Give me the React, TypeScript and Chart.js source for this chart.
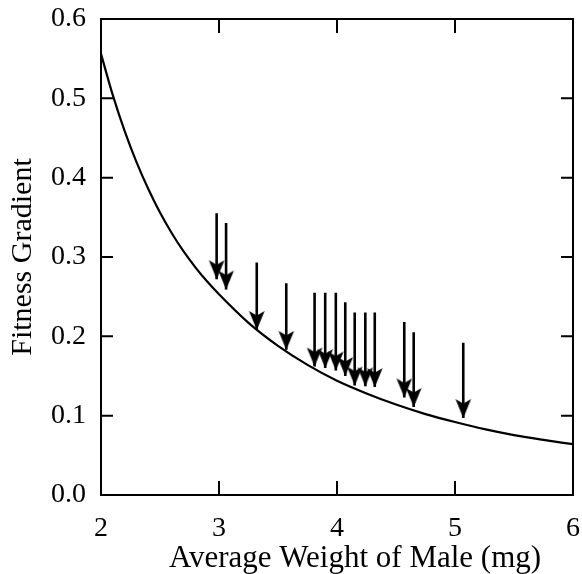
import React, { useEffect, useRef } from "react";
import { Chart, registerables } from "chart.js";

Chart.register(...registerables);

// Fitted curve
const curveX = [2.0, 2.1, 2.2, 2.3, 2.4, 2.5, 2.6, 2.7, 2.8, 2.9, 3.0, 3.25, 3.5, 3.75, 4.0, 4.25, 4.5, 4.75, 5.0, 5.25, 5.5, 5.75, 6.0];
const curveY = [0.556, 0.504, 0.459, 0.42, 0.386, 0.356, 0.33, 0.307, 0.287, 0.269, 0.253, 0.217, 0.188, 0.164, 0.144, 0.128, 0.114, 0.102, 0.092, 0.083, 0.0755, 0.0695, 0.064];

// Arrows: x position, top of shaft, tip of head
const arrowX = [2.98, 3.06, 3.32, 3.57, 3.81, 3.9, 3.99, 4.07, 4.15, 4.24, 4.32, 4.57, 4.65, 5.07];
const arrowTop = [0.355, 0.343, 0.293, 0.267, 0.255, 0.255, 0.255, 0.243, 0.23, 0.23, 0.23, 0.218, 0.205, 0.192];
const arrowTip = [0.272, 0.259, 0.208, 0.183, 0.162, 0.16, 0.157, 0.15, 0.138, 0.137, 0.136, 0.123, 0.111, 0.097];

const xTicks = [2, 3, 4, 5, 6];
const yTicks = [0.0, 0.1, 0.2, 0.3, 0.4, 0.5, 0.6];

const xTitle = "Average Weight of Male (mg)";
const yTitle = "Fitness Gradient";

const FONT = "'Liberation Serif', 'Times New Roman', serif";

function makeHead(): HTMLCanvasElement {
  const c = document.createElement("canvas");
  c.width = 18;
  c.height = 40;
  const g = c.getContext("2d")!;
  g.fillStyle = "#000";
  g.beginPath();
  g.moveTo(9, 20);
  g.lineTo(16.8, 1);
  g.lineTo(9, 5.5);
  g.lineTo(1.2, 1);
  g.closePath();
  g.fill();
  return c;
}

const framePlugin = {
  id: "frameTicks",
  afterDraw(chart: any) {
    const { ctx, chartArea: a, scales } = chart;
    ctx.save();
    ctx.strokeStyle = "#000";
    ctx.lineWidth = 2;
    ctx.strokeRect(a.left, a.top, a.right - a.left, a.bottom - a.top);
    ctx.beginPath();
    xTicks.slice(1, -1).forEach((v) => {
      const px = scales.x.getPixelForValue(v);
      ctx.moveTo(px, a.bottom);
      ctx.lineTo(px, a.bottom - 14);
      ctx.moveTo(px, a.top);
      ctx.lineTo(px, a.top + 14);
    });
    yTicks.slice(1, -1).forEach((v) => {
      const py = scales.y.getPixelForValue(v);
      ctx.moveTo(a.left, py);
      ctx.lineTo(a.left + 12, py);
      ctx.moveTo(a.right, py);
      ctx.lineTo(a.right - 12, py);
    });
    ctx.stroke();
    // x-axis title, set slightly right of centre as in the source figure
    ctx.fillStyle = "#000";
    ctx.font = `31px ${FONT}`;
    ctx.textAlign = "center";
    ctx.textBaseline = "middle";
    ctx.fillText(xTitle, (a.left + a.right) / 2 + 18, 559);
    ctx.restore();
  },
};

export default function App() {
  const ref = useRef<HTMLCanvasElement | null>(null);
  useEffect(() => {
    if (!ref.current) return;
    const head = makeHead();
    const curve = curveX.map((x, i) => ({ x, y: curveY[i] }));
    const shafts: any[] = [];
    arrowX.forEach((x, i) => {
      shafts.push({ x, y: arrowTop[i] });
      shafts.push({ x, y: arrowTip[i] });
      shafts.push({ x, y: null });
    });
    const heads = arrowX.map((x, i) => ({ x, y: arrowTip[i] }));

    const chart = new Chart(ref.current, {
      type: "line",
      data: {
        datasets: [
          {
            data: curve,
            borderColor: "#000",
            borderWidth: 2.2,
            pointRadius: 0,
            cubicInterpolationMode: "monotone",
            fill: false,
          },
          {
            data: shafts,
            borderColor: "#000",
            borderWidth: 2.6,
            pointRadius: 0,
            spanGaps: false,
            fill: false,
          },
          {
            data: heads,
            showLine: false,
            pointStyle: head as any,
            pointRadius: 8,
            pointBackgroundColor: "#000",
            pointBorderWidth: 0,
          },
        ],
      } as any,
      options: {
        animation: false,
        responsive: false,
        layout: { padding: { top: 19, right: 9, left: 0, bottom: 0 } },
        plugins: { legend: { display: false }, tooltip: { enabled: false } },
        scales: {
          x: {
            type: "linear",
            min: 2,
            max: 6,
            grid: { display: false },
            border: { display: false },
            afterFit: (s: any) => {
              s.height = 79;
              s.paddingLeft = 0;
              s.paddingRight = 0;
            },
            ticks: {
              stepSize: 1,
              color: "#000",
              padding: 9,
              maxRotation: 0,
              font: { family: FONT, size: 28 },
              callback: (v: any) => String(v),
            },
            title: { display: false, text: xTitle },
          },
          y: {
            type: "linear",
            min: 0,
            max: 0.6,
            grid: { display: false },
            border: { display: false },
            afterFit: (s: any) => {
              s.width = 101;
              s.paddingTop = 0;
              s.paddingBottom = 0;
            },
            ticks: {
              stepSize: 0.1,
              color: "#000",
              padding: 7,
              font: { family: FONT, size: 28 },
              callback: (v: any) => Number(v).toFixed(1),
            },
            title: {
              display: true,
              text: yTitle,
              color: "#000",
              font: { family: FONT, size: 30 },
              padding: { top: 5, bottom: 0 },
            },
          },
        },
      } as any,
      plugins: [framePlugin],
    });
    return () => chart.destroy();
  }, []);

  return (
    <div style={{ position: "fixed", left: 0, top: 0, width: 582, height: 574, background: "#fff" }}>
      <canvas ref={ref} width={582} height={574} style={{ display: "block" }} />
    </div>
  );
}
